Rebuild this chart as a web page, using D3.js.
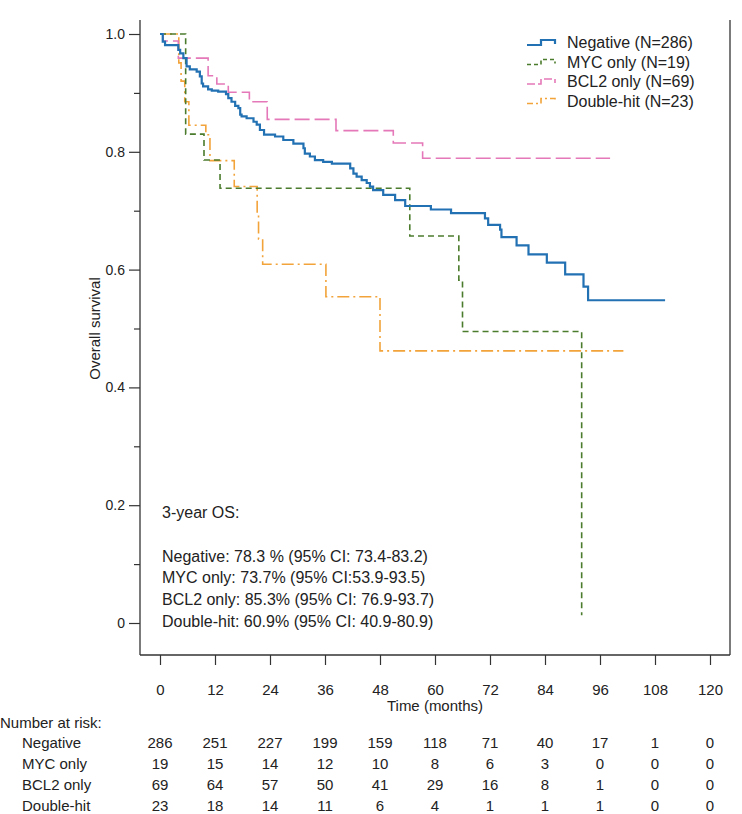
<!DOCTYPE html>
<html>
<head>
<meta charset="utf-8">
<script src="https://cdn.jsdelivr.net/npm/d3@7"></script>
<style>
  html, body { margin: 0; padding: 0; background: #fff; }
  svg { display: block; font-family: "Liberation Sans", Arial, Helvetica, sans-serif; }
</style>
</head>
<body>
<div id="chart"></div>
<script>
// ---------- data ----------
const groups = ["Negative", "MYC only", "BCL2 only", "Double-hit"];
const legendLabels = ["Negative (N=286)", "MYC only (N=19)", "BCL2 only (N=69)", "Double-hit (N=23)"];

const negativeTimes = [0, 0.6, 1.1, 4.0, 4.4, 5.1, 5.8, 6.5, 8.0, 8.7, 9.1, 9.4, 10.5, 11.3, 12.7, 14.4, 14.9, 15.6, 16.4, 17.1, 17.5, 17.8, 18.9, 20.4, 21.1, 21.8, 22.7, 25.1, 26.9, 29.1, 31.3, 31.6, 32.7, 33.8, 35.6, 37.5, 41.5, 42.2, 42.9, 44.0, 45.1, 45.8, 46.5, 48.7, 51.3, 53.5, 59.1, 63.5, 70.9, 71.6, 74.2, 74.5, 77.8, 80.4, 84.4, 88.4, 92.4, 93.4];
const negativeSurv  = [1.0, 0.987, 0.981, 0.973, 0.967, 0.959, 0.945, 0.940, 0.936, 0.928, 0.916, 0.911, 0.906, 0.904, 0.902, 0.898, 0.891, 0.885, 0.878, 0.874, 0.863, 0.860, 0.857, 0.851, 0.846, 0.837, 0.829, 0.826, 0.820, 0.814, 0.806, 0.797, 0.792, 0.786, 0.783, 0.780, 0.772, 0.763, 0.758, 0.752, 0.747, 0.741, 0.735, 0.727, 0.718, 0.708, 0.702, 0.696, 0.687, 0.676, 0.668, 0.655, 0.641, 0.626, 0.612, 0.592, 0.571, 0.548];
const negativeEnd = 110.2;

const mycTimes = [0, 5.6, 9.6, 13.1, 54.5, 65.2, 66.0, 92.0];
const mycSurv  = [1.0, 0.83, 0.786, 0.738, 0.657, 0.582, 0.495, 0.013];
const mycEnd = 92.0;

const bcl2Times = [0, 0.7, 4.0, 10.5, 12.4, 14.9, 19.5, 23.4, 38.4, 50.9, 57.3];
const bcl2Surv  = [1.0, 0.988, 0.959, 0.929, 0.915, 0.901, 0.885, 0.855, 0.836, 0.815, 0.789];
const bcl2End = 98.2;

const dhTimes = [0, 4.1, 4.6, 5.4, 6.3, 10.0, 10.9, 16.2, 21.2, 21.5, 22.4, 36.2, 48.0];
const dhSurv  = [1.0, 0.951, 0.92, 0.885, 0.845, 0.829, 0.785, 0.741, 0.696, 0.652, 0.609, 0.554, 0.462];
const dhEnd = 101.1;

const xTicks = [0, 12, 24, 36, 48, 60, 72, 84, 96, 108, 120];
const yTicks = [0, 0.2, 0.4, 0.6, 0.8, 1.0];
const yMinorTicks = [0.1, 0.3, 0.5, 0.7, 0.9];

const riskNegative = [286, 251, 227, 199, 159, 118, 71, 40, 17, 1, 0];
const riskMyc      = [19, 15, 14, 12, 10, 8, 6, 3, 0, 0, 0];
const riskBcl2     = [69, 64, 57, 50, 41, 29, 16, 8, 1, 0, 0];
const riskDh       = [23, 18, 14, 11, 6, 4, 1, 1, 1, 0, 0];

const osLines = [
  "3-year OS:",
  "",
  "Negative: 78.3 % (95% CI: 73.4-83.2)",
  "MYC only: 73.7% (95% CI:53.9-93.5)",
  "BCL2 only: 85.3% (95% CI: 76.9-93.7)",
  "Double-hit: 60.9% (95% CI: 40.9-80.9)"
];

// ---------- styles ----------
const styles = [
  { color: "#2271b3", width: 2.2, dash: null },
  { color: "#4b7b2c", width: 1.6, dash: "6,4" },
  { color: "#e478b8", width: 1.6, dash: "15,5" },
  { color: "#f2a33a", width: 1.6, dash: "12,4,2,4" }
];

// ---------- build ----------
const W = 742, H = 814;
const svg = d3.select("#chart").append("svg").attr("width", W).attr("height", H);

const x = d3.scaleLinear().domain([0, 120]).range([160, 710]);
const y = d3.scaleLinear().domain([0, 1]).range([623, 34]);

const axisLeftX = 140, axisBottomY = 655, frameTop = 20, frameRight = 730;
const axisColor = "#333";

// frame
svg.append("line").attr("x1", axisLeftX).attr("x2", axisLeftX).attr("y1", frameTop).attr("y2", axisBottomY)
  .attr("stroke", axisColor).attr("stroke-width", 1.3);
svg.append("line").attr("x1", axisLeftX).attr("x2", frameRight).attr("y1", axisBottomY).attr("y2", axisBottomY)
  .attr("stroke", axisColor).attr("stroke-width", 1.3);
svg.append("line").attr("x1", frameRight).attr("x2", frameRight).attr("y1", frameTop).attr("y2", axisBottomY)
  .attr("stroke", axisColor).attr("stroke-width", 1.3);

// y axis
const gy = svg.append("g").attr("transform", `translate(${axisLeftX},0)`)
  .call(d3.axisLeft(y).tickValues(yTicks).tickSize(11).tickPadding(4)
    .tickFormat(d => d === 0 ? "0" : d3.format(".1f")(d)));
gy.select(".domain").remove();
gy.selectAll("line").attr("stroke", axisColor).attr("stroke-width", 1.2);
gy.selectAll("text").attr("font-size", 14).attr("fill", "#222").attr("font-family", "Liberation Sans, Arial, sans-serif");

const gym = svg.append("g").attr("transform", `translate(${axisLeftX},0)`)
  .call(d3.axisLeft(y).tickValues(yMinorTicks).tickSize(6).tickFormat(""));
gym.select(".domain").remove();
gym.selectAll("line").attr("stroke", axisColor).attr("stroke-width", 1.2);

// x axis
const gx = svg.append("g").attr("transform", `translate(0,${axisBottomY})`)
  .call(d3.axisBottom(x).tickValues(xTicks).tickSize(10).tickPadding(19));
gx.select(".domain").remove();
gx.selectAll("line").attr("stroke", axisColor).attr("stroke-width", 1.2);
gx.selectAll("text").attr("font-size", 15).attr("fill", "#222").attr("font-family", "Liberation Sans, Arial, sans-serif");

// axis titles
svg.append("text").attr("x", x(60)).attr("y", 711).attr("text-anchor", "middle")
  .attr("font-size", 15).attr("fill", "#222").text("Time (months)");
svg.append("text").attr("transform", `translate(100,${y(0.5)}) rotate(-90)`).attr("text-anchor", "middle")
  .attr("font-size", 15).attr("fill", "#222").text("Overall survival");

// curves
const series = [
  { times: negativeTimes, surv: negativeSurv, end: negativeEnd },
  { times: mycTimes, surv: mycSurv, end: mycEnd },
  { times: bcl2Times, surv: bcl2Surv, end: bcl2End },
  { times: dhTimes, surv: dhSurv, end: dhEnd }
];
const line = d3.line().x(d => x(d[0])).y(d => y(d[1])).curve(d3.curveStepAfter);

[3, 1, 2, 0].forEach(i => {
  const s = series[i];
  const pts = s.times.map((t, j) => [t, s.surv[j]]);
  const last = pts[pts.length - 1];
  if (s.end > last[0]) pts.push([s.end, last[1]]);
  const p = svg.append("path").attr("d", line(pts)).attr("fill", "none")
    .attr("stroke", styles[i].color).attr("stroke-width", styles[i].width)
    .attr("stroke-linejoin", "miter");
  if (styles[i].dash) p.attr("stroke-dasharray", styles[i].dash);
});

// legend
const legendX = 527, legendY0 = 42, legendDy = 19.5;
groups.forEach((g, i) => {
  const yy = legendY0 + i * legendDy;
  const p = svg.append("path")
    .attr("d", `M${legendX},${yy + 3} H${legendX + 14} V${yy - 2} H${legendX + 28} V${yy + 2}`)
    .attr("fill", "none").attr("stroke", styles[i].color).attr("stroke-width", styles[i].width);
  if (styles[i].dash) p.attr("stroke-dasharray", i === 2 ? "8,3" : (i === 3 ? "6,3,2,3" : "4,3"));
  svg.append("text").attr("x", legendX + 40).attr("y", yy + 6).attr("font-size", 16).attr("fill", "#222")
    .text(legendLabels[i]);
});

// 3-year OS annotation
const osY0 = 512, osDy = 21.8;
osLines.forEach((t, i) => {
  if (!t) return;
  svg.append("text").attr("x", 162).attr("y", osY0 + i * osDy + 6).attr("font-size", 16).attr("fill", "#222").text(t);
});

// risk table
svg.append("text").attr("x", 0).attr("y", 728).attr("font-size", 15).attr("fill", "#222").text("Number at risk:");
const riskRows = [riskNegative, riskMyc, riskBcl2, riskDh];
const rowY0 = 748, rowDy = 21;
riskRows.forEach((row, r) => {
  const yy = rowY0 + r * rowDy;
  svg.append("text").attr("x", 22).attr("y", yy).attr("font-size", 15).attr("fill", "#222").text(groups[r]);
  row.forEach((v, k) => {
    svg.append("text").attr("x", x(xTicks[k])).attr("y", yy).attr("text-anchor", "middle")
      .attr("font-size", 15).attr("fill", "#222").text(v);
  });
});
</script>
</body>
</html>
